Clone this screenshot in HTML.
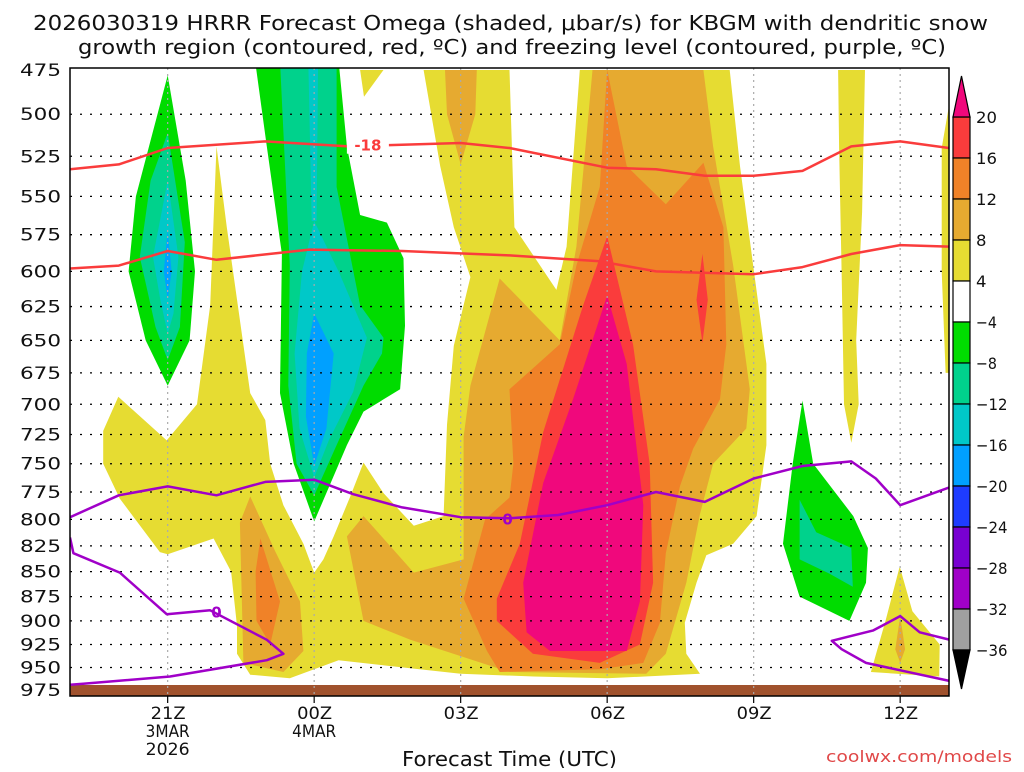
<!DOCTYPE html>
<html><head><meta charset="utf-8">
<style>
html,body{margin:0;padding:0;background:#fff;}
body{width:1024px;height:768px;overflow:hidden;font-family:"DejaVu Sans","Liberation Sans",sans-serif;}
svg text{font-family:"DejaVu Sans","Liberation Sans",sans-serif;}
</style></head><body>
<svg id="chart" width="1024" height="768" viewBox="0 0 1024 768" xmlns="http://www.w3.org/2000/svg">
<text x="33" y="30" font-size="20" textLength="955" lengthAdjust="spacingAndGlyphs" fill="#111">2026030319 HRRR Forecast Omega (shaded, μbar/s) for KBGM with dendritic snow</text>
<text x="78" y="54" font-size="20" textLength="868" lengthAdjust="spacingAndGlyphs" fill="#111">growth region (contoured, red, ºC) and freezing level (contoured, purple, ºC)</text>
<defs><clipPath id="plotclip"><rect x="70" y="68" width="879" height="628"/></clipPath></defs>
<g id="fills" clip-path="url(#plotclip)"></g>
<g id="grid"></g>
<g id="lines" clip-path="url(#plotclip)"></g>
<rect x="70" y="68" width="879" height="628" fill="none" stroke="#000" stroke-width="1.5"/>
<g id="axes"></g>
<g id="cbar"></g>
<text x="402" y="766" font-size="20" textLength="215" lengthAdjust="spacingAndGlyphs" fill="#111">Forecast Time (UTC)</text>
<text x="826" y="762" font-size="16" textLength="186" lengthAdjust="spacingAndGlyphs" fill="#e04848">coolwx.com/models</text>
</svg>
<script>
// ---- data ----
const xTickHours = [2,5,8,11,14,17];
const xTickLabels = ["21Z","00Z","03Z","06Z","09Z","12Z"];
const xTickSub = [["3MAR","2026"],["4MAR"],[],[],[],[]];
const pLevels = [475,500,525,550,575,600,625,650,675,700,725,750,775,800,825,850,875,900,925,950,975];
const cbarLevels = [20,16,12,8,4,-4,-8,-12,-16,-20,-24,-28,-32,-36];
const cbarColors = ["#fa3c3c","#f08228","#e6aa30","#e6dc32","#ffffff","#00dc00","#00d28c","#00c8c8","#00a0ff","#1e3cff","#7800d2","#a000c8","#a0a0a0"];

const yellowMain = [[0.99,694],[1.98,730],[2.6,700],[2.87,624],[3.0,519],[3.21,570],[3.69,691],[4.0,713],[4.1,750],[4.37,787],[4.78,823],[5.0,851],[5.19,838],[5.4,816],[5.74,779],[6.01,749],[6.42,776],[7.04,806],[7.65,797],[7.72,717],[7.86,654],[8.2,604],[7.86,570],[7.58,531],[7.24,475],[9.0,475],[9.1,570],[9.96,613],[10.17,583],[10.44,475],[13.51,475],[13.72,531],[13.99,596],[14.26,668],[14.26,734],[14.06,797],[13.58,823],[13.03,834],[12.83,861],[12.59,902],[12.62,935],[12.9,957],[11,962],[9.5,960],[8,957],[6.5,948],[5.5,942],[5.0,952],[4.5,962],[3.69,958],[3.42,935],[3.42,905],[3.3,850],[2.94,818],[2.0,833],[1.84,831],[1.02,781],[0.68,750],[0.68,722]];
const yellowRightCol = [[15.73,475],[16.28,475],[16.22,560],[16.1,650],[16.15,700],[16.0,732],[15.85,700],[15.8,600],[15.75,520]];
const yellowEdge = [[17.85,520],[18.0,495],[18.1,675],[17.93,675],[17.85,600]];
const yellowTop = [[5.94,475],[6.42,475],[6.02,490]];
const yellowBR = [[16.99,845],[17.25,890],[17.81,925],[17.8,960],[16.4,955],[16.7,900]];
const orangeBR = [[17.0,895],[17.1,930],[17.0,945],[16.9,930]];
const orangeTop = [[7.68,475],[8.33,475],[8.3,500],[8.0,530],[7.72,500]];
const orangeLeft = [[3.69,779],[4.2,830],[4.71,880],[4.78,932],[4.37,955],[3.55,945],[3.48,803]];
const darkOrangeLeft = [[3.9,818],[4.3,880],[4.1,925],[3.82,900],[3.8,850]];
const orangeMid = [[10.7,475],[12.97,475],[13.17,519],[13.58,596],[13.92,688],[13.85,720],[13.17,750],[12.9,795],[12.62,861],[12.2,935],[11.8,957],[9,955],[6.97,920],[6.01,900],[5.67,816],[6.01,797],[7.04,851],[8.06,838],[8.06,727],[8.2,685],[8.8,605],[10.03,650],[10.37,583]];
const darkOrangeMid = [[11.0,475],[11.4,531],[12.2,555],[12.97,529],[13.38,570],[13.44,653],[13.31,696],[12.76,737],[12.49,770],[12.2,832],[12.08,902],[11.74,945],[10.85,952],[8.8,955],[8.54,932],[8.06,877],[8.5,800],[9.0,780],[9.08,750],[9.0,688],[10.03,653],[10.37,596],[10.85,544]];
const redMid = [[11.0,576],[11.53,653],[11.87,750],[11.94,861],[11.67,925],[10.85,945],[9.48,935],[8.74,900],[8.74,877],[9.21,823],[9.69,723],[10.51,624]];
const redSpike = [[12.95,588],[13.06,620],[12.95,652],[12.83,620]];
const magentaCore = [[11.0,617],[11.4,668],[11.74,787],[11.67,880],[11.4,932],[9.83,932],[9.35,912],[9.28,861],[9.69,767],[10.3,696]];
const green1 = [[2,478],[2.37,540],[2.56,600],[2.45,650],[2,685],[1.55,650],[1.2,600],[1.35,550],[1.7,510]];
const teal1 = [[2,511],[2.35,580],[2.25,640],[2,665],[1.75,640],[1.43,590],[1.65,540]];
const cyan1 = [[2,540],[2.22,590],[2.12,630],[2,645],[1.85,620],[1.7,590]];
const blue1 = [[2,572],[2.08,600],[2,620],[1.92,600]];
const green2 = [[3.79,470],[5.5,470],[5.67,519],[5.94,562],[6.49,567],[6.83,591],[6.86,639],[6.76,688],[6.01,706],[5.67,734],[5.0,802],[4.58,750],[4.3,691],[4.34,588],[4.03,519]];
const teal2 = [[4.3,470],[5.46,470],[5.46,544],[5.94,624],[6.42,648],[6.39,660],[6.01,685],[5.46,734],[5.0,778],[4.64,750],[4.47,685],[4.5,596]];
const cyan2 = [[5.0,566],[5.5,600],[6.08,648],[5.8,690],[5.3,730],[5.0,762],[4.7,720],[4.6,660],[4.75,600]];
const cyan2Strip = [[4.88,470],[5.08,470],[5.05,566],[4.95,566]];
const blue2 = [[5.0,630],[5.4,660],[5.25,720],[5.0,752],[4.83,710],[4.85,660]];
const green3 = [[15.0,697],[15.22,750],[16.04,797],[16.34,827],[16.3,861],[15.96,900],[14.94,875],[14.6,823],[14.8,750]];
const teal3 = [[14.94,782],[15.28,812],[16.0,827],[16.03,865],[15.55,852],[14.94,838]];

const red1Hours = [0,1,2,4,5.7,8,9,11,12,13,14,15,16,17,18];
const red1P = [533,530,520,516,519,517,520,532,533,537,537,534,519,516,520];
const red2Hours = [0,1,2,3,4.9,6.8,9,10.85,12,14,15,16,17,18];
const red2P = [598,596,586,592,585,586,589,593,600,602,597,588,582,583];
const pur1Hours = [0,1,2,3,4,5,5.8,6.8,8,9,10,11,12,13,14,15,16,16.5,17,18];
const pur1P = [798,778,770,778,766,764,777,789,798,799,796,787,775,784,763,752,748,763,787,771];
const pur2Hours = [0,0.07,1.02,1.98,2.87,4.03,4.37,4.03,2.05,0.27,-0.2];
const pur2P = [817,832,851,893,889,920,935,942,960,968,970];
const pur3Hours = [18.1,17.4,17.0,16.45,15.6,15.8,16.3,18.1];
const pur3P = [921,912,895,910,921,930,945,966];

// ---- axes ----
const X0=70, X1=949, H0=0, H1=18;
const xS = h => X0 + (h-H0)*(X1-X0)/(H1-H0);
const yS = p => 70 + 862*Math.log(p/475);
const NS="http://www.w3.org/2000/svg";
function mk(tag, parent, attrs){const e=document.createElementNS(NS,tag);for(const k in attrs)e.setAttribute(k,attrs[k]);parent.appendChild(e);return e;}
const pts = arr => arr.map(d=>xS(d[0]).toFixed(1)+","+yS(d[1]).toFixed(1)).join(" ");

const fills=document.getElementById('fills');
const layers=[
 ["yellow-main",yellowMain,"#e6dc32"],["yellow-right-column",yellowRightCol,"#e6dc32"],["yellow-edge",yellowEdge,"#e6dc32"],
 ["yellow-top",yellowTop,"#e6dc32"],["yellow-bottom-right",yellowBR,"#e6dc32"],["orange-bottom-right",orangeBR,"#e6aa30"],
 ["orange-top",orangeTop,"#e6aa30"],["orange-left",orangeLeft,"#e6aa30"],["dark-orange-left",darkOrangeLeft,"#f08228"],
 ["orange-mid",orangeMid,"#e6aa30"],["dark-orange-mid",darkOrangeMid,"#f08228"],["red-mid",redMid,"#fa3c3c"],
 ["red-spike",redSpike,"#fa3c3c"],["magenta-core",magentaCore,"#f0087c"],
 ["green-left",green1,"#00dc00"],["teal-left",teal1,"#00d28c"],["cyan-left",cyan1,"#00c8c8"],["blue-left",blue1,"#00a0ff"],
 ["green-center",green2,"#00dc00"],["teal-center",teal2,"#00d28c"],["cyan-center",cyan2,"#00c8c8"],["cyan-center-strip",cyan2Strip,"#00c8c8"],["blue-center",blue2,"#00a0ff"],
 ["green-right",green3,"#00dc00"],["teal-right",teal3,"#00d28c"]
];
layers.forEach(l=>{
 const e=mk('polygon',fills,{points:pts(l[1]),fill:l[2]});
 
 
});
const ground=mk('rect',fills,{x:70,y:685,width:879,height:12,fill:"#a0522d"});



// grid
const grid=document.getElementById('grid');
pLevels.forEach(p=>{
 if(p===475||p===975) return;
 const l=mk('line',grid,{x1:70,x2:949,y1:yS(p),y2:yS(p),stroke:"#000","stroke-width":1.3,"stroke-dasharray":"2,8"});
 
 
});
xTickHours.forEach(h=>{
 const l=mk('line',grid,{x1:xS(h),x2:xS(h),y1:68,y2:696,stroke:"#aaa","stroke-width":1.2,"stroke-dasharray":"2,4"});
 
 
});

// contour lines
const lines=document.getElementById('lines');
function line(hs,ps,color,name){
 const d=hs.map((h,i)=>(i?"L":"M")+xS(h).toFixed(1)+","+yS(ps[i]).toFixed(1)).join(" ");
 const e=mk('path',lines,{d:d,fill:"none",stroke:color,"stroke-width":2.5,"stroke-linejoin":"round"});
 
 
}
line(red1Hours,red1P,"#fa3c3c","dgz-minus18-line");
line(red2Hours,red2P,"#fa3c3c","dgz-minus12-line");
line(pur1Hours,pur1P,"#a000c8","freezing-level-upper");
line(pur2Hours,pur2P,"#a000c8","freezing-level-lower-left");
line(pur3Hours,pur3P,"#a000c8","freezing-level-lower-right");
function clabel(h,p,txt,color,name,bg){
 const x=xS(h), y=yS(p);
 if(bg){
  const r=mk('rect',lines,{x:x-(txt.length*6+3),y:y-9,width:txt.length*12+6,height:18,fill:bg});
  
  
 }
 const t=mk('text',lines,{x:x,y:y+6,"text-anchor":"middle","font-size":15,"font-weight":"bold",fill:color});
 t.textContent=txt;
 
 
}
clabel(6.1,518,"-18","#fa3c3c","label-minus18","#fff");
clabel(8.96,799,"0","#a000c8","label-zero-upper",null);
clabel(3.0,890,"0","#a000c8","label-zero-lower",null);

// axes
const axes=document.getElementById('axes');
pLevels.forEach(p=>{
 const t=mk('text',axes,{x:20,y:yS(p)+6,"font-size":17,textLength:41,lengthAdjust:"spacingAndGlyphs",fill:"#111"});
 t.textContent=p;
 
 
});
xTickHours.forEach((h,i)=>{
 const x=xS(h);
 const tk=mk('line',axes,{x1:x,x2:x,y1:696,y2:703,stroke:"#000","stroke-width":1.2});
 
 
 const t=mk('text',axes,{x:x-17,y:719,"font-size":17,textLength:35,lengthAdjust:"spacingAndGlyphs",fill:"#111"});
 t.textContent=xTickLabels[i];
 
 
 xTickSub[i].forEach((s,j)=>{
  const w=s.length*11;
  const u=mk('text',axes,{x:x-w/2,y:737+j*18,"font-size":17,textLength:w,lengthAdjust:"spacingAndGlyphs",fill:"#111"});
  u.textContent=s;
  
  
 });
});

// colorbar
const cb=document.getElementById('cbar');
const CX=953, CW=17, CT=117, CH=41;
cbarColors.forEach((c,i)=>{
 const r=mk('rect',cb,{x:CX,y:CT+i*CH,width:CW,height:CH,fill:c,stroke:"#000","stroke-width":1.2});
 
 
});
const tt=mk('polygon',cb,{points:`${CX},${CT} ${CX+CW},${CT} ${CX+CW/2},76`,fill:"#f0087c",stroke:"#000","stroke-width":1.2});


const bt=mk('polygon',cb,{points:`${CX},${CT+13*CH} ${CX+CW},${CT+13*CH} ${CX+CW/2},689`,fill:"#000",stroke:"#000","stroke-width":1.2});


cbarLevels.forEach((v,i)=>{
 const s=v<0?"\u2212"+(-v):String(v);
 const t=mk('text',cb,{x:976,y:CT+i*CH+6,"font-size":16,textLength:s.length*10.5,lengthAdjust:"spacingAndGlyphs",fill:"#111"});
 t.textContent=s;
 
 
});
</script>
</body></html>
